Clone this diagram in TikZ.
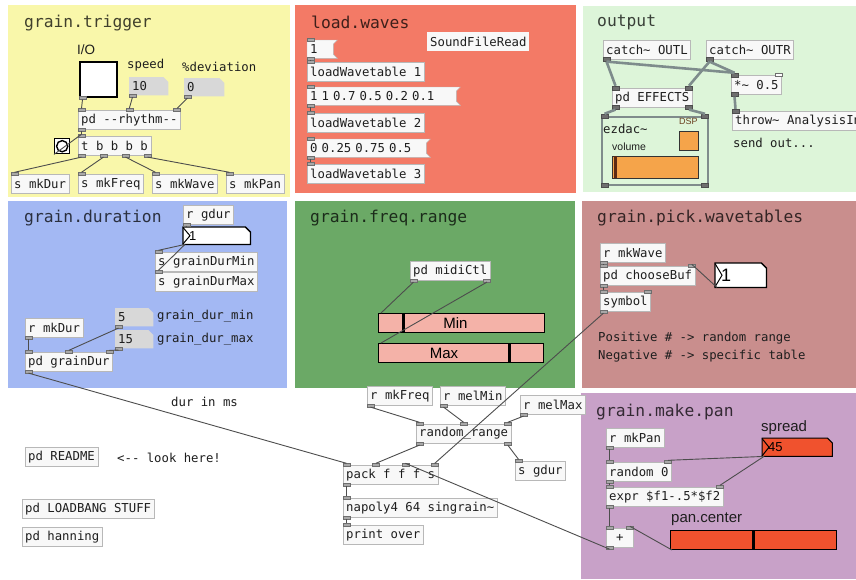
\documentclass[tikz,border=0pt]{standalone}
\usepackage{fontspec}
\setmonofont{DejaVu Sans Mono}
\setsansfont{Liberation Sans}
\usepackage{tikz}
\usetikzlibrary{calc}

\definecolor{trigbg}{HTML}{F9F7AA}
\definecolor{wavesbg}{HTML}{F37A66}
\definecolor{outbg}{HTML}{DDF5D9}
\definecolor{durbg}{HTML}{A3B8F3}
\definecolor{freqbg}{HTML}{6BA966}
\definecolor{pickbg}{HTML}{C98E8D}
\definecolor{panbg}{HTML}{C8A1C8}
\definecolor{boxfill}{HTML}{F8F8F8}
\definecolor{boxline}{HTML}{B8B8B8}
\definecolor{pdtext}{HTML}{1E1E1E}
\definecolor{iogray}{HTML}{A8A8A8}
\definecolor{iodark}{HTML}{6E6E6E}
\definecolor{connc}{HTML}{4D4D4D}
\definecolor{sigc}{HTML}{7E8C8C}
\definecolor{atomgray}{HTML}{D8D8D8}
\definecolor{pinksl}{HTML}{F4B2A8}
\definecolor{redsl}{HTML}{F0522E}
\definecolor{dacorange}{HTML}{F5A44A}
\definecolor{volmark}{HTML}{5C2A14}
\definecolor{dsptext}{HTML}{6A4020}
\definecolor{gopline}{HTML}{7F8B8B}

\pgfdeclarelayer{panel}
\pgfdeclarelayer{shape}
\pgfsetlayers{panel,shape,main}

\newcommand{\pdfont}{\ttfamily\fontsize{12.3}{14}\selectfont}
\newcommand{\titlefont}{\ttfamily\fontsize{16.3}{18}\selectfont}
\newcommand{\tld}{\char`\~}

% inlets / outlets along the top / bottom edge of a box
\newcommand{\putins}[3][]{\foreach \fr [count=\nn from 0] in {#3}
	{\node[iolet,#1] (#2-i\nn) at ($([xshift=3.5pt]#2.north west)!\fr!([xshift=-3.5pt]#2.north east)$) {};}}
\newcommand{\putouts}[3][]{\foreach \fr [count=\nn from 0] in {#3}
	{\node[iolet,#1] (#2-o\nn) at ($([xshift=3.5pt]#2.south west)!\fr!([xshift=-3.5pt]#2.south east)$) {};}}
% number box outline with the cut corner
\newcommand{\atomcut}[2]{\begin{pgfonlayer}{shape}
	\path[#2] (#1.south west) -- (#1.north west) -- ([xshift=-5pt]#1.north east) -- ([yshift=-5pt]#1.north east) -- (#1.south east) -- cycle;
	\end{pgfonlayer}}
% message box outline
\newcommand{\msgflag}[1]{\begin{pgfonlayer}{shape}
	\filldraw[fill=boxfill, draw=boxline] (#1.north west) -- ([xshift=5pt]#1.north east) -- ([xshift=1pt,yshift=-4pt]#1.north east) -- ([xshift=1pt,yshift=4pt]#1.south east) -- ([xshift=5pt]#1.south east) -- (#1.south west) -- cycle;
	\end{pgfonlayer}}
\newcommand{\nbxtri}[1]{\draw[line width=1pt] ([yshift=-0.5pt]#1.north west) -- ([xshift=7pt]#1.west) -- ([yshift=0.5pt]#1.south west);}

\begin{document}
\begin{tikzpicture}[x=1pt, y=-1pt,
	obj/.style={draw=boxline, fill=boxfill, text=pdtext, font=\pdfont, inner xsep=3pt, inner ysep=0pt, minimum height=19pt, anchor=north west},
	msg/.style={obj, draw=none, fill=none, minimum height=18pt, text width=#1, align=left},
	atom/.style={obj, draw=none, fill=none, minimum height=18pt, text width=#1, align=left},
	cmt/.style={text=pdtext, font=\pdfont, inner sep=0pt, anchor=west},
	paneltitle/.style={font=\titlefont, text=black, text opacity=0.74, inner sep=0pt, anchor=west},
	sanslbl/.style={font=\sffamily\fontsize{15}{16}\selectfont, text=pdtext, inner sep=0pt, anchor=west},
	smallsans/.style={font=\sffamily\fontsize{9}{10}\selectfont, text=pdtext, inner sep=0pt, anchor=west},
	iolet/.style={draw=iodark, fill=iogray, inner sep=0pt, minimum width=7pt, minimum height=3pt, line width=0.4pt},
	sigio/.style={fill=iodark, draw=iodark!70!black, minimum height=4pt},
	conn/.style={draw=connc, line width=0.9pt},
	sig/.style={draw=sigc, line width=2.6pt},
	slider/.style={draw=black, line width=1pt, anchor=north west, inner sep=0pt, minimum height=19pt},
	knob/.style={line width=3pt},
	]
	\useasboundingbox (0,0) rectangle (856,579);
	
	%panels
	\begin{pgfonlayer}{panel}
	\fill[white] (0,0) rectangle (856,579);
	\fill[trigbg] (8,5) rectangle (290,197);
	\fill[wavesbg] (295,5) rectangle (576,193);
	\fill[outbg] (583,6) rectangle (856,192);
	\fill[durbg] (8,201) rectangle (287,388);
	\fill[freqbg] (295,201) rectangle (575,388);
	\fill[pickbg] (582,201) rectangle (856,388);
	\fill[panbg] (581,393) rectangle (856,579);
	\end{pgfonlayer}
	
	\begin{scope}
	\clip (0,0) rectangle (856,579);
	
	%titles
	\node[paneltitle] (trigtitle) at (24,23) {grain.trigger};
	\node[paneltitle] (wavestitle) at (311,22) {load.waves};
	\node[paneltitle] (outtitle) at (597,22) {output};
	\node[paneltitle] (durtitle) at (24,218) {grain.duration};
	\node[paneltitle] (freqtitle) at (310,218) {grain.freq.range};
	\node[paneltitle] (picktitle) at (597,218) {grain.pick.wavetables};
	\node[paneltitle] (pantitle) at (596,412) {grain.make.pan};
	
	%grain.trigger
	\node[sanslbl, font=\sffamily\fontsize{13.5}{14}\selectfont] (iolbl) at (77,50) {I/O};
	\node[draw=black, line width=1.8pt, fill=white, minimum width=37pt, minimum height=35pt, anchor=north west, inner sep=0pt] (tgl) at (79,61) {};
	\node[cmt] (speedlbl) at (127,65) {speed};
	\node[atom=33pt] (speednum) at (129,77) {10};
	\atomcut{speednum}{fill=atomgray}
	\node[cmt] (devlbl) at (182,67) {\%deviation};
	\node[atom=34pt] (devnum) at (184,78) {0};
	\atomcut{devnum}{fill=atomgray}
	\node[obj] (rhythm) at (78,110) {pd -{}-rhythm-{}-};
	\node[draw=black, line width=1.4pt, fill=white, minimum size=15pt, anchor=north west, inner sep=0pt] (bang) at (54,138) {};
	\draw[line width=1.4pt] (bang.center) circle (5.6pt);
	\node[obj] (trig) at (78,136) {t b b b b};
	\node[obj] (smkdur) at (11,174) {s mkDur};
	\node[obj] (smkfreq) at (78,174) {s mkFreq};
	\node[obj] (smkwave) at (152,174) {s mkWave};
	\node[obj] (smkpan) at (226,174) {s mkPan};
	
	%load.waves
	\node[msg=19pt] (msga) at (307,40) {1};
	\msgflag{msga}
	\node[obj, draw=none] (sfread) at (427,32) {SoundFileRead};
	\node[obj] (lwa) at (307,62) {loadWavetable 1};
	\node[msg=142pt] (msgb) at (307,87) {1 1 0.7 0.5 0.2 0.1};
	\msgflag{msgb}
	\node[obj] (lwb) at (307,113) {loadWavetable 2};
	\node[msg=112pt] (msgc) at (307,139) {0 0.25 0.75 0.5};
	\msgflag{msgc}
	\node[obj] (lwc) at (307,164) {loadWavetable 3};
	
	%output
	\node[obj] (catchl) at (603,40) {catch\tld{} OUTL};
	\node[obj] (catchr) at (706,40) {catch\tld{} OUTR};
	\node[obj] (fx) at (612,88) {pd EFFECTS};
	\node[obj] (mul) at (731,75) {*\tld{} 0.5};
	\node[obj] (throw) at (732,111) {throw\tld{} AnalysisIn};
	\node[cmt] (sendout) at (733,143) {send out...};
	\node[draw=gopline, line width=1.5pt, minimum width=106pt, minimum height=68pt, anchor=north west, inner sep=0pt] (dac) at (601,116) {};
	\node[cmt] (daclbl) at (603,129) {ezdac\tld};
	\node[smallsans, text=dsptext] (dsplbl) at (679,121) {DSP};
	\node[draw=black!80, fill=dacorange, minimum size=19pt, anchor=north west, inner sep=0pt] (dsp) at (679,131) {};
	\node[smallsans, font=\sffamily\fontsize{10.5}{11}\selectfont] (vollbl) at (612,147) {volume};
	\node[draw=black!80, fill=dacorange, minimum width=86pt, minimum height=22pt, anchor=north west, inner sep=0pt] (vol) at (612,156) {};
	\draw[knob, draw=volmark] ([xshift=3pt]vol.north west) -- ([xshift=3pt]vol.south west);
	
	%grain.duration
	\node[obj] (rgdur) at (183,205) {r gdur};
	\node[atom=55pt, inner xsep=6pt, minimum height=17pt, text=black, font=\sffamily\fontsize{13}{14}\selectfont] (gdurnum) at (183,227) {1};
	\atomcut{gdurnum}{fill=white, draw=black, line width=1.3pt}
	\nbxtri{gdurnum}
	\node[obj] (smin) at (155,252) {s grainDurMin};
	\node[obj] (smax) at (155,272) {s grainDurMax};
	\node[obj] (rmkdur) at (25,318) {r mkDur};
	\node[atom=32pt] (numa) at (115,308) {5};
	\atomcut{numa}{fill=atomgray}
	\node[cmt] (minlbl) at (157,316) {grain\_dur\_min};
	\node[atom=32pt] (numb) at (115,330) {15};
	\atomcut{numb}{fill=atomgray}
	\node[cmt] (maxlbl) at (157,339) {grain\_dur\_max};
	\node[obj] (graindur) at (25,352) {pd grainDur};
	
	%grain.freq.range
	\node[obj] (midictl) at (410,261) {pd midiCtl};
	\node[slider, fill=pinksl, minimum width=166pt, label={[font=\sffamily\fontsize{15}{16}\selectfont, xshift=-6pt]center:Min}] (minsl) at (378,313) {};
	\draw[knob] ([xshift=25pt]minsl.north west) -- ([xshift=25pt]minsl.south west);
	\node[slider, fill=pinksl, minimum width=165pt, label={[font=\sffamily\fontsize{15}{16}\selectfont, xshift=-17pt]center:Max}] (maxsl) at (378,343) {};
	\draw[knob] ([xshift=131pt]maxsl.north west) -- ([xshift=131pt]maxsl.south west);
	
	%grain.pick.wavetables
	\node[obj] (rmkwave) at (600,243) {r mkWave};
	\node[obj] (choosebuf) at (600,266) {pd chooseBuf};
	\node[atom=39pt, inner xsep=6pt, minimum height=24pt, text=black, font=\sffamily\fontsize{18}{19}\selectfont] (picknum) at (715,263) {1};
	\atomcut{picknum}{fill=white, draw=black, line width=1.3pt}
	\nbxtri{picknum}
	\node[obj] (symbol) at (600,292) {symbol};
	\node[cmt] (posnote) at (598,338) {Positive \# -> random range};
	\node[cmt] (negnote) at (598,356) {Negative \# -> specific table};
	
	%grain.make.pan
	\node[obj] (rmkpan) at (606,428) {r mkPan};
	\node[sanslbl] (spreadlbl) at (761,428) {spread};
	\node[atom=58pt, inner xsep=6pt, text=black, font=\sffamily\fontsize{13}{14}\selectfont] (spreadnum) at (762,438) {45};
	\atomcut{spreadnum}{fill=redsl, draw=black, line width=1pt}
	\nbxtri{spreadnum}
	\node[obj] (random) at (606,462) {random 0};
	\node[obj] (expr) at (606,487) {expr \$f1-.5*\$f2};
	\node[sanslbl] (panlbl) at (671,519) {pan.center};
	\node[slider, fill=redsl, minimum width=166pt] (pansl) at (670,530) {};
	\draw[knob] ([xshift=83pt]pansl.north west) -- ([xshift=83pt]pansl.south west);
	\node[obj, minimum width=27pt] (plus) at (606,528) {+};
	
	%bottom middle
	\node[obj] (rmkfreq) at (367,386) {r mkFreq};
	\node[obj] (rmelmin) at (440,386) {r melMin};
	\node[obj] (rmelmax) at (520,395) {r melMax};
	\node[obj] (randrange) at (416,424) {random\_range};
	\node[obj] (sgdur) at (515,461) {s gdur};
	\node[obj] (pack) at (343,465) {pack f f f s};
	\node[obj] (napoly) at (343,498) {napoly4 64 singrain\tld};
	\node[obj] (printover) at (343,525) {print over};
	\node[cmt] (durms) at (171,402) {dur in ms};
	\node[obj] (readme) at (25,447) {pd README};
	\node[cmt] (lookhere) at (117,458) {<-{}- look here!};
	\node[obj] (loadbang) at (22,499) {pd LOADBANG STUFF};
	\node[obj] (hanning) at (22,527) {pd hanning};
	
	%inlets and outlets
	\putouts{tgl}{0}
	\putouts{speednum}{0}
	\putouts{devnum}{0}
	\putins{rhythm}{0,0.5,1}
	\putouts{rhythm}{0}
	\putins{trig}{0}
	\putouts{trig}{0,0.333,0.667,1}
	\foreach \s in {smkdur,smkfreq,smkwave,smkpan,lwa,lwb,lwc,smin,smax,sgdur,printover}
		{\putins{\s}{0}}
	\foreach \s in {msga,msgb,msgc} {
		\putins{\s}{0}
		\putouts{\s}{0}
	}
	\putouts[sigio]{catchl}{0}
	\putouts[sigio]{catchr}{0}
	\putins[sigio]{fx}{0,1}
	\putouts[sigio]{fx}{0,1}
	\putins[sigio]{mul}{0}
	\node[iolet, fill=white] (mul-i1) at ([xshift=-3.5pt]mul.north east) {};
	\putouts[sigio]{mul}{0}
	\putins[sigio]{throw}{0}
	\putins[sigio]{dac}{0,1}
	\putouts[sigio]{dac}{0,1}
	\foreach \s in {rgdur,rmkdur,numa,numb,rmkwave,rmkpan,rmkfreq,rmelmin,rmelmax,napoly,pack}
		{\putouts{\s}{0}}
	\putins{graindur}{0,0.5,1}
	\putouts{graindur}{0}
	\putouts{midictl}{0,1}
	\putins{choosebuf}{0,1}
	\putouts{choosebuf}{0}
	\putins{symbol}{0,1}
	\putouts{symbol}{0}
	\putins{random}{0,1}
	\putouts{random}{0}
	\putins{expr}{0,1}
	\putouts{expr}{0}
	\putins{plus}{0,1}
	\putouts{plus}{0}
	\putins{randrange}{0,0.5,1}
	\putouts{randrange}{0,1}
	\putins{pack}{0,0.333,0.667,1}
	\putins{napoly}{0}
	
	%connections
	\draw[conn] (tgl-o0.south) -- (rhythm-i0.north);
	\draw[conn] (speednum-o0.south) -- (rhythm-i1.north);
	\draw[conn] (devnum-o0.south) -- (rhythm-i2.north);
	\draw[conn] (rhythm-o0.south) -- (trig-i0.north);
	\draw[conn] (bang.south west) -- (trig-i0.north);
	\foreach \s [count=\n from 0] in {smkdur,smkfreq,smkwave,smkpan}
		{\draw[conn] (trig-o\n.south) -- (\s-i0.north);}
	\draw[conn] (msga-o0.south) -- (lwa-i0.north);
	\draw[conn] (msgb-o0.south) -- (lwb-i0.north);
	\draw[conn] (msgc-o0.south) -- (lwc-i0.north);
	%
	\draw[sig] (catchl-o0.south) -- (fx-i0.north);
	\draw[sig] (catchl-o0.south) -- (mul-i0.north);
	\draw[sig] (catchr-o0.south) -- (fx-i1.north);
	\draw[sig] (catchr-o0.south) -- (mul-i0.north);
	\draw[sig] (mul-o0.south) -- (throw-i0.north);
	\draw[sig] (fx-o0.south) -- (dac-i0.north);
	\draw[sig] (fx-o1.south) -- (dac-i1.north);
	%
	\draw[conn] (rgdur-o0.south) -- ([xshift=3pt]gdurnum.north west);
	\draw[conn] ([xshift=2pt]gdurnum.south west) -- (smin-i0.north);
	\draw[conn] ([xshift=2pt]gdurnum.south west) -- (smax-i0.north);
	\draw[conn] (rmkdur-o0.south) -- (graindur-i0.north);
	\draw[conn] (numa-o0.south) -- (graindur-i1.north);
	\draw[conn] (numb-o0.south) -- (graindur-i2.north);
	\draw[conn] (graindur-o0.south) -- (pack-i0.north);
	%
	\draw[conn] (midictl-o0.south) -- ([xshift=3pt]minsl.north west);
	\draw[conn] (midictl-o1.south) -- ([xshift=3pt]maxsl.north west);
	%
	\draw[conn] (rmkwave-o0.south) -- (choosebuf-i0.north);
	\draw[conn] (choosebuf-o0.south) -- (symbol-i0.north);
	\draw[conn] ([xshift=2pt]picknum.south west) -- (choosebuf-i1.north);
	\draw[conn] (symbol-o0.south) -- (pack-i3.north);
	%
	\draw[conn] (rmkpan-o0.south) -- (random-i0.north);
	\draw[conn] ([xshift=2pt]spreadnum.south west) -- (random-i1.north);
	\draw[conn] ([xshift=2pt]spreadnum.south west) -- (expr-i1.north);
	\draw[conn] (random-o0.south) -- (expr-i0.north);
	\draw[conn] (expr-o0.south) -- (plus-i0.north);
	\draw[conn] ([xshift=2pt]pansl.south west) -- (plus-i1.north);
	\draw[conn] (plus-o0.south) -- (pack-i2.north);
	%
	\draw[conn] (rmkfreq-o0.south) -- (randrange-i0.north);
	\draw[conn] (rmelmin-o0.south) -- (randrange-i1.north);
	\draw[conn] (rmelmax-o0.south) -- (randrange-i2.north);
	\draw[conn] (randrange-o0.south) -- (pack-i1.north);
	\draw[conn] (randrange-o1.south) -- (sgdur-i0.north);
	\draw[conn] (pack-o0.south) -- (napoly-i0.north);
	\draw[conn] (napoly-o0.south) -- (printover-i0.north);
	\end{scope}
\end{tikzpicture}
\end{document}
